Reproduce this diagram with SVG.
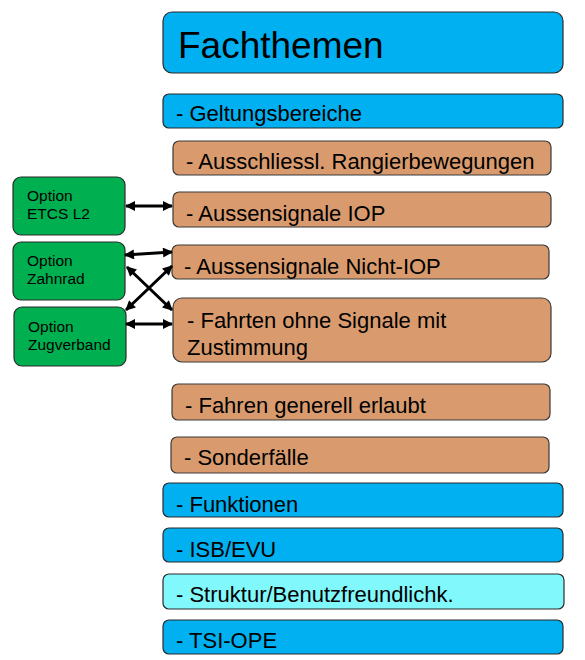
<svg xmlns="http://www.w3.org/2000/svg" width="585" height="660" viewBox="0 0 585 660">
<style>
.blue{fill:#00B0F0;stroke:#2a2a2a;stroke-width:1.2}
.cyan{fill:#80F8FC;stroke:#2a2a2a;stroke-width:1.2}
.orange{fill:#D99B6E;stroke:#3a3a3a;stroke-width:1.2}
.green{fill:#00B050;stroke:#2a2a2a;stroke-width:1.2}
text{font-family:"Liberation Sans",Arial,sans-serif;fill:#000}
.t{font-size:22px}
.g{font-size:15.5px}
.c{stroke:#000;stroke-width:3;fill:none;marker-start:url(#ah);marker-end:url(#ah)}
</style>
<defs>
<marker id="ah" viewBox="0 0 10 10" refX="9" refY="5" markerWidth="11" markerHeight="10" markerUnits="userSpaceOnUse" orient="auto-start-reverse">
<path d="M0,0 L10,5 L0,10 z" fill="#000"/>
</marker>
</defs>
<rect width="585" height="660" fill="#fff"/>
<g id="fachthemen"><rect class="blue" x="163" y="12" width="400" height="61" rx="9"/><text x="178" y="58" font-size="37">Fachthemen</text></g>
<g id="geltungsbereiche"><rect class="blue" x="163" y="94" width="400" height="34" rx="6"/><text class="t" x="176" y="121">- Geltungsbereiche</text></g>
<g id="rangier"><rect class="orange" x="173" y="141" width="378" height="34" rx="6"/><text class="t" x="186" y="169">- Ausschliessl. Rangierbewegungen</text></g>
<g id="iop"><rect class="orange" x="173" y="192" width="378" height="35" rx="6"/><text class="t" x="186" y="221">- Aussensignale IOP</text></g>
<g id="nichtiop"><rect class="orange" x="172" y="245" width="377" height="34" rx="6"/><text class="t" x="184" y="274">- Aussensignale Nicht-IOP</text></g>
<g id="fahrten"><rect class="orange" x="173" y="298" width="378" height="64" rx="9"/><text class="t" x="187" y="328">- Fahrten ohne Signale mit</text><text class="t" x="187" y="355">Zustimmung</text></g>
<g id="fahren"><rect class="orange" x="172" y="384" width="378" height="36" rx="6"/><text class="t" x="185" y="413">- Fahren generell erlaubt</text></g>
<g id="sonder"><rect class="orange" x="171" y="437" width="378" height="36" rx="6"/><text class="t" x="184" y="465">- Sonderfälle</text></g>
<g id="funktionen"><rect class="blue" x="163" y="483" width="400" height="34" rx="6"/><text class="t" x="176" y="512">- Funktionen</text></g>
<g id="isb"><rect class="blue" x="163" y="528" width="400" height="34" rx="6"/><text class="t" x="176" y="557">- ISB/EVU</text></g>
<g id="struktur"><rect class="cyan" x="163" y="574" width="401" height="35" rx="6"/><text class="t" x="176" y="602">- Struktur/Benutzfreundlichk.</text></g>
<g id="tsi"><rect class="blue" x="163" y="620" width="400" height="34" rx="6"/><text class="t" x="176" y="648">- TSI-OPE</text></g>
<g id="etcs"><rect class="green" x="13" y="177" width="112" height="58" rx="8"/><text class="g" x="27" y="201">Option</text><text class="g" x="27" y="219">ETCS L2</text></g>
<g id="zahnrad"><rect class="green" x="13" y="242" width="112" height="58" rx="8"/><text class="g" x="27" y="266">Option</text><text class="g" x="27" y="284">Zahnrad</text></g>
<g id="zugverband"><rect class="green" x="14" y="307" width="112" height="59" rx="8"/><text class="g" x="28" y="332">Option</text><text class="g" x="28" y="350">Zugverband</text></g>
<g id="connectors">
<line class="c" x1="126" y1="206" x2="172" y2="206"/>
<line class="c" x1="125" y1="255" x2="172" y2="252"/>
<line class="c" x1="127" y1="267" x2="172" y2="310"/>
<line class="c" x1="126" y1="310" x2="172" y2="266"/>
<line class="c" x1="126" y1="324" x2="172" y2="324"/>
</g>
</svg>
